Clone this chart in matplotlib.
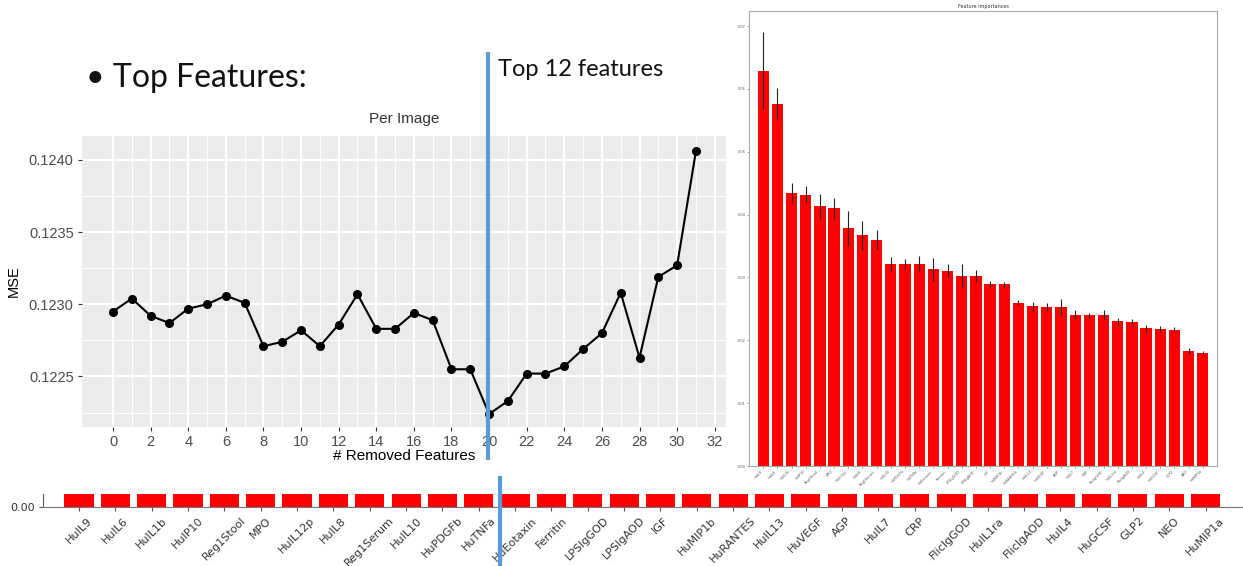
import numpy as np
import matplotlib
matplotlib.use("Agg")
import matplotlib.pyplot as plt
from matplotlib.lines import Line2D

# ---- data ----
removed = list(range(32))
mse = [0.12295, 0.12304, 0.12292, 0.12287, 0.12297, 0.12300, 0.12306, 0.12301,
       0.12271, 0.12274, 0.12282, 0.12271, 0.12286, 0.12307, 0.12283, 0.12283,
       0.12294, 0.12289, 0.12255, 0.12255, 0.12224, 0.12233, 0.12252, 0.12252,
       0.12257, 0.12269, 0.12280, 0.12308, 0.12263, 0.12319, 0.12327, 0.12406]
mse_yticks = [0.1225, 0.1230, 0.1235, 0.1240]
mse_xticks = list(range(0, 33, 2))

features = ["HuIL9", "HuIL6", "HuIL1b", "HuIP10", "Reg1Stool", "MPO", "HuIL12p",
            "HuIL8", "Reg1Serum", "HuIL10", "HuPDGFb", "HuTNFa", "HuEotaxin",
            "Ferritin", "LPSIgGOD", "LPSIgAOD", "IGF", "HuMIP1b", "HuRANTES",
            "HuIL13", "HuVEGF", "AGP", "HuIL7", "CRP", "FlicIgGOD", "HuIL1ra",
            "FlicIgAOD", "HuIL4", "HuGCSF", "GLP2", "NEO", "HuMIP1a"]
importance = [0.0629, 0.0576, 0.0435, 0.0432, 0.0413, 0.0410, 0.0378, 0.0367,
              0.0360, 0.0322, 0.0322, 0.0322, 0.0313, 0.0311, 0.0303, 0.0302,
              0.0290, 0.0289, 0.0260, 0.0254, 0.0253, 0.0253, 0.0241, 0.0240,
              0.0240, 0.0230, 0.0229, 0.0219, 0.0218, 0.0217, 0.0183, 0.0180]
imp_err = [0.0061, 0.0026, 0.0016, 0.0014, 0.0020, 0.0017, 0.0028, 0.0023,
           0.0015, 0.0011, 0.0008, 0.0012, 0.0018, 0.0010, 0.0019, 0.0010,
           0.0005, 0.0004, 0.0004, 0.0007, 0.0007, 0.0013, 0.0007, 0.0004,
           0.0008, 0.0005, 0.0005, 0.0005, 0.0004, 0.0004, 0.0004, 0.0003]
imp_yticks = [0.00, 0.01, 0.02, 0.03, 0.04, 0.05, 0.06, 0.07]

W, H = 1243, 566
fig = plt.figure(figsize=(W / 100, H / 100), dpi=100)
fig.patch.set_facecolor("white")


def px_axes(l, t, r, b):
    return fig.add_axes([l / W, 1 - b / H, (r - l) / W, (b - t) / H])


# ---- left: ggplot-like MSE curve ----
ax = px_axes(82, 136, 726, 427)
ax.set_facecolor("#EBEBEB")
for s in ax.spines.values():
    s.set_visible(False)
ax.set_xlim(-1.65, 32.6)
ax.set_ylim(0.12215, 0.124166)
ax.set_xticks(mse_xticks)
ax.set_yticks(mse_yticks)
ax.set_yticklabels(["%.4f" % v for v in mse_yticks])
ax.set_xticks(range(1, 33, 2), minor=True)
ax.set_yticks([0.12225, 0.12275, 0.12325, 0.12375], minor=True)
ax.grid(True, which="major", color="white", lw=1.6)
ax.grid(True, which="minor", color="white", lw=0.7)
ax.set_axisbelow(True)
ax.tick_params(which="major", length=3, color="#333333", labelcolor="#4D4D4D",
               labelsize=10.5, pad=3)
ax.tick_params(which="minor", length=0)
ax.plot(removed, mse, color="black", lw=1.5, marker="o", ms=5.5, zorder=3)
ax.set_title("Per Image", fontsize=11, color="#333333", pad=9,
             family="Liberation Sans")
ax.set_xlabel("# Removed Features", fontsize=11, labelpad=0, family="Liberation Sans")
ax.set_ylabel("MSE", fontsize=10.5, labelpad=6, family="Liberation Sans")
for lab in ax.get_xticklabels() + ax.get_yticklabels():
    lab.set_family("Liberation Sans")

# ---- right: feature importances ----
ax2 = px_axes(749, 11, 1217, 466)
xs = np.arange(len(importance))
ax2.bar(xs, importance, width=0.8, color="red", yerr=imp_err,
        error_kw=dict(ecolor="#222222", elinewidth=0.8))
ax2.set_xlim(-1, 32)
ax2.set_ylim(0, 0.0724)
ax2.set_yticks(imp_yticks)
ax2.set_yticklabels(["%.2f" % v for v in imp_yticks])
ax2.set_xticks(xs)
ax2.set_xticklabels(features, rotation=45, ha="right")
ax2.tick_params(labelsize=2.5, length=1.5, width=0.4, pad=1, colors="#555555")
for s in ax2.spines.values():
    s.set_color("#AAAAAA")
    s.set_linewidth(0.8)
ax2.set_title("Feature importances", fontsize=3.5, pad=2, color="#333333")

# ---- bottom strip: cropped bar chart ----
ax3 = px_axes(43, 494, 1243, 507)
ax3.bar(xs, importance, width=0.8, color="red")
ax3.set_xlim(-0.99, 32.03)
ax3.set_ylim(0, 0.002)
ax3.set_yticks([0.0])
ax3.set_yticklabels(["0.00"])
ax3.set_xticks(xs)
ax3.set_xticklabels(features, rotation=45, ha="center")
ax3.tick_params(labelsize=8, length=3, color="#555555", labelcolor="#333333", pad=3)
ax3.spines["top"].set_visible(False)
ax3.spines["right"].set_visible(False)
ax3.spines["left"].set_color("#555555")
ax3.spines["bottom"].set_color("#777777")

# ---- slide text and blue marker line ----
fig.text(86 / W, 1 - 78 / H, "\u2022 Top Features:", fontsize=23, family="Lato",
         va="center", ha="left", color="#111111")
fig.text(498 / W, 1 - 70 / H, "Top 12 features", fontsize=17, family="Lato",
         va="center", ha="left", color="#111111")
fig.add_artist(Line2D([488 / W, 488 / W], [1 - 54 / H, 1 - 458 / H],
                      transform=fig.transFigure, color="#5B9BD5", lw=3))
fig.add_artist(Line2D([500 / W, 500 / W], [1 - 478 / H, 0],
                      transform=fig.transFigure, color="#5B9BD5", lw=3))

fig.savefig("out.png", dpi=100)
